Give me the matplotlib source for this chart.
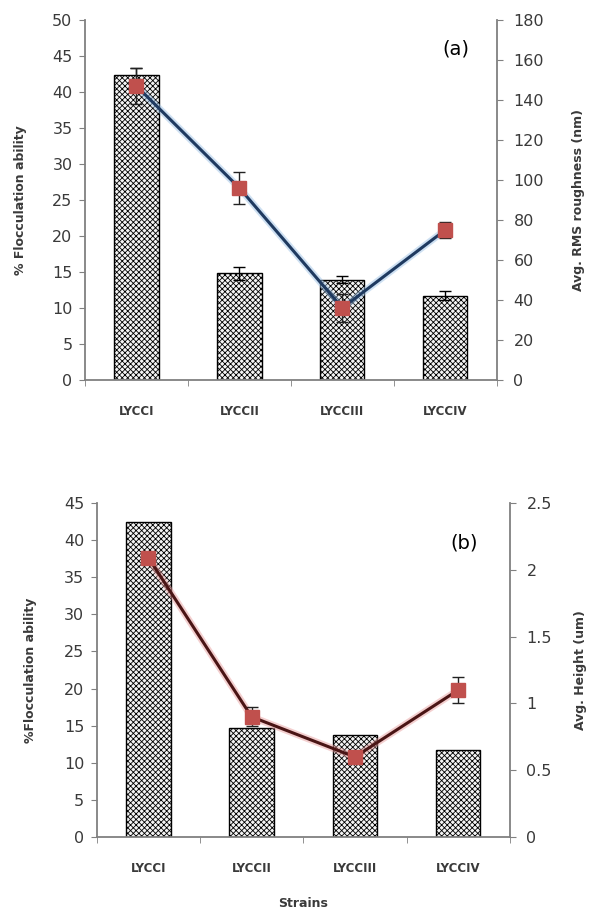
import matplotlib
matplotlib.use("Agg")
import matplotlib.pyplot as plt
import numpy as np

strains = ['LYCCI', 'LYCCII', 'LYCCIII', 'LYCCIV']

# panel (a)
floc_a = [42.4, 14.8, 13.9, 11.7]
floc_a_err = [1.0, 0.9, 0.5, 0.6]
rms = [147, 96, 36, 75]
rms_err = [9, 8, 7, 4]

# panel (b)
floc_b = [42.4, 14.7, 13.7, 11.7]
height = [2.09, 0.90, 0.60, 1.10]
height_err = [0.03, 0.07, 0.04, 0.10]

plt.rcParams['hatch.color'] = '#666666'
plt.rcParams['hatch.linewidth'] = 0.6
GRAY = '#808080'
TXT = '#3a3a3a'


def style_axes(ax, ax2, ymax, ystep, y2max, y2step):
    x = np.arange(len(strains))
    ax.set_xlim(-0.5, len(strains) - 0.5)
    ax.set_xticks(x)
    ax.set_xticklabels(strains, fontsize=8.5, fontweight='bold', color=TXT)
    ax.tick_params(axis='x', which='major', length=0, pad=18)
    ax.set_xticks(np.arange(-0.5, len(strains), 1.0), minor=True)
    ax.tick_params(axis='x', which='minor', length=4, color=GRAY, direction='out')
    ax.set_ylim(0, ymax)
    ax.set_yticks(np.arange(0, ymax + 0.01, ystep))
    ax.tick_params(axis='y', length=4, color=GRAY, labelsize=11.5,
                   labelcolor=TXT, pad=5)
    ax2.set_ylim(0, y2max)
    ax2.set_yticks(np.arange(0, y2max + 0.001, y2step))
    ax2.yaxis.set_major_formatter(plt.FuncFormatter(lambda v, p: ('%g' % v)))
    ax2.tick_params(axis='y', length=4, color=GRAY, labelsize=11.5,
                    labelcolor=TXT, pad=8)
    for a in (ax, ax2):
        a.spines['top'].set_visible(False)
        for s in ('left', 'right', 'bottom'):
            a.spines[s].set_color(GRAY)
            a.spines[s].set_linewidth(1.3)
    ax.spines['right'].set_visible(False)
    ax2.spines['left'].set_visible(False)
    ax2.spines['bottom'].set_visible(False)


fig = plt.figure(figsize=(5.9, 9.11), dpi=100)
x = np.arange(len(strains))

# ---- (a)
ax = fig.add_axes([0.144, 0.583, 0.698, 0.395])
ax.bar(x, floc_a, width=0.43, color='#f4f4f4', edgecolor='black', linewidth=1,
       hatch='xxxxxx', yerr=floc_a_err, capsize=4,
       error_kw=dict(ecolor='black', elinewidth=1, capthick=1))
ax2 = ax.twinx()
ax2.plot(x, rms, color='#9ec3e6', linewidth=5, alpha=0.5, zorder=2)
ax2.errorbar(x, rms, yerr=rms_err, color='#1f3a60', linewidth=2.2,
             marker='s', markersize=10, markerfacecolor='#c0504d',
             markeredgecolor='#c0504d', ecolor='#222222', elinewidth=1,
             capsize=4, zorder=3)
style_axes(ax, ax2, 50, 5, 180, 20)
ax.set_ylabel('% Flocculation ability', fontsize=9, fontweight='bold',
              color=TXT, labelpad=18)
ax2.set_ylabel('Avg. RMS roughness (nm)', fontsize=9, fontweight='bold',
               color=TXT, labelpad=20)
ax.text(0.9, 0.92, '(a)', transform=ax.transAxes, fontsize=14,
        ha='center', va='center')

# ---- (b)
bx = fig.add_axes([0.164, 0.081, 0.70, 0.367])
bx.bar(x, floc_b, width=0.43, color='#f4f4f4', edgecolor='black', linewidth=1,
       hatch='xxxxxx')
bx2 = bx.twinx()
bx2.plot(x, height, color='#e8a0a0', linewidth=5, alpha=0.5, zorder=2)
bx2.errorbar(x, height, yerr=height_err, color='#4a1515', linewidth=2.2,
             marker='s', markersize=10, markerfacecolor='#c0504d',
             markeredgecolor='#c0504d', ecolor='#222222', elinewidth=1,
             capsize=4, zorder=3)
style_axes(bx, bx2, 45, 5, 2.5, 0.5)
bx.set_ylabel('%Flocculation ability', fontsize=9, fontweight='bold',
              color=TXT, labelpad=19)
bx2.set_ylabel('Avg. Height (um)', fontsize=9, fontweight='bold',
               color=TXT, labelpad=16)
bx.set_xlabel('Strains', fontsize=9, fontweight='bold', color=TXT, labelpad=16)
bx.text(0.89, 0.88, '(b)', transform=bx.transAxes, fontsize=14,
        ha='center', va='center')

fig.savefig('out.png', dpi=100)
